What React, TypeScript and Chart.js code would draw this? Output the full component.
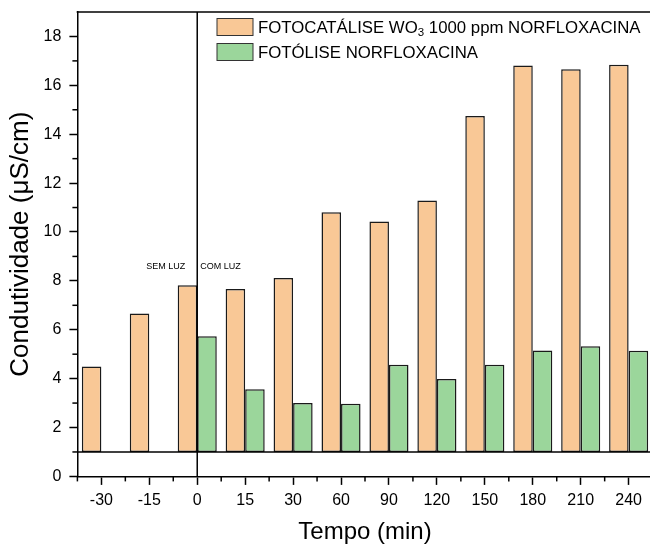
import React, { useEffect, useRef } from "react";
import { Chart, registerables } from "chart.js";

Chart.register(...registerables);

const categories = ["-30", "-15", "0", "15", "30", "60", "90", "120", "150", "180", "210", "240"];
const fotocatalise = [4.5, 6.66, 7.82, 7.67, 8.12, 10.81, 10.43, 11.29, 14.74, 16.81, 16.66, 16.84];
const fotolise = [null, null, 5.73, 3.57, 3.0, 2.97, 4.57, 3.98, 4.57, 5.15, 5.32, 5.14];
const baseline = 1;
const yMin = 0;
const yMax = 19;
const yStep = 2;
const lightChangeCategory = "0";
const annotationLeft = "SEM LUZ";
const annotationRight = "COM LUZ";
const annotationValue = 8.6;
const legendLabels = ["FOTOCATÁLISE WO", "3", " 1000 ppm NORFLOXACINA"];
const legendLabel2 = "FOTÓLISE NORFLOXACINA";

const FONT = '"Liberation Sans", Arial, Helvetica, sans-serif';
const ORANGE = "#F9C896";
const GREEN = "#9BD69B";
const EDGE = "#1a1a1a";

const decorPlugin = {
  id: "decor",
  afterDatasetsDraw(chart: any) {
    const { ctx, chartArea: a, scales } = chart;
    const x = scales.x;
    const y = scales.y;
    const line = (x1: number, y1: number, x2: number, y2: number, w = 1.5) => {
      ctx.beginPath();
      ctx.lineWidth = w;
      ctx.moveTo(x1, y1);
      ctx.lineTo(x2, y2);
      ctx.stroke();
    };
    ctx.save();
    ctx.strokeStyle = "#000";
    // top frame
    line(a.left - 0.75, a.top, a.right, a.top);
    // baseline
    const yb = y.getPixelForValue(baseline);
    line(a.left, yb, a.right, yb);
    // vertical separation line
    const idx = categories.indexOf(lightChangeCategory);
    const x0 = x.getPixelForValue(idx);
    line(x0, a.top, x0, a.bottom);
    // minor y ticks
    for (let v = yMin + 1; v < yMax; v += yStep) {
      const py = y.getPixelForValue(v);
      line(a.left - 5, py, a.left, py);
    }
    // minor x ticks
    const half = (x.getPixelForValue(1) - x.getPixelForValue(0)) / 2;
    for (let i = 0; i <= categories.length; i++) {
      const px = x.getPixelForValue(0) - half + i * 2 * half;
      line(px, a.bottom, px, a.bottom + 5);
    }
    // annotations
    ctx.fillStyle = "#000";
    ctx.font = `9px ${FONT}`;
    ctx.textBaseline = "middle";
    const ay = y.getPixelForValue(annotationValue);
    ctx.textAlign = "right";
    ctx.fillText(annotationLeft, x0 - 12, ay);
    ctx.textAlign = "left";
    ctx.fillText(annotationRight, x0 + 3, ay);

    // legend
    const bx = 217;
    const bw = 36;
    const bh = 17;
    const rows = [
      { color: ORANGE, cy: 27 },
      { color: GREEN, cy: 52 },
    ];
    rows.forEach((r) => {
      ctx.fillStyle = r.color;
      ctx.fillRect(bx, r.cy - bh / 2, bw, bh);
      ctx.strokeStyle = "#333";
      ctx.lineWidth = 1;
      ctx.strokeRect(bx, r.cy - bh / 2, bw, bh);
    });
    ctx.fillStyle = "#000";
    ctx.textAlign = "left";
    ctx.textBaseline = "alphabetic";
    const tx = 258;
    const base1 = rows[0].cy + 6;
    ctx.font = `16.8px ${FONT}`;
    ctx.fillText(legendLabels[0], tx, base1);
    let w = ctx.measureText(legendLabels[0]).width;
    ctx.font = `11.5px ${FONT}`;
    ctx.fillText(legendLabels[1], tx + w, base1 + 3);
    w += ctx.measureText(legendLabels[1]).width;
    ctx.font = `16.8px ${FONT}`;
    ctx.fillText(legendLabels[2], tx + w, base1);
    ctx.fillText(legendLabel2, tx, rows[1].cy + 6);
    ctx.restore();
  },
};

export default function App() {
  const ref = useRef<HTMLCanvasElement | null>(null);
  useEffect(() => {
    if (!ref.current) return;
    const chart = new Chart(ref.current, {
      type: "bar",
      data: {
        labels: categories,
        datasets: [
          {
            label: "FOTOCATÁLISE WO3 1000 ppm NORFLOXACINA",
            data: fotocatalise.map((v) => (v == null ? null : [baseline, v])) as any,
            backgroundColor: ORANGE,
            borderColor: EDGE,
            borderWidth: 1.5,
            borderSkipped: false,
            categoryPercentage: 0.815,
            barPercentage: 1,
          },
          {
            label: "FOTÓLISE NORFLOXACINA",
            data: fotolise.map((v) => (v == null ? null : [baseline, v])) as any,
            backgroundColor: GREEN,
            borderColor: EDGE,
            borderWidth: 1.5,
            borderSkipped: false,
            categoryPercentage: 0.815,
            barPercentage: 1,
          },
        ],
      },
      options: {
        responsive: false,
        animation: false,
        devicePixelRatio: 1,
        layout: { padding: { left: 0, top: 12, right: 7.4, bottom: 0 } },
        plugins: { legend: { display: false }, tooltip: { enabled: false } },
        scales: {
          x: {
            type: "category",
            offset: true,
            grid: {
              display: true,
              offset: false,
              drawOnChartArea: false,
              drawTicks: true,
              tickLength: 8.5,
              tickColor: "#000",
              tickWidth: 1.5,
            },
            border: { display: true, color: "#000", width: 1.5 },
            ticks: {
              color: "#000",
              font: { family: FONT, size: 16 },
              padding: 6,
              maxRotation: 0,
              autoSkip: false,
            },
            title: {
              display: true,
              text: "Tempo (min)",
              color: "#000",
              font: { family: FONT, size: 24 },
              padding: { top: 0, bottom: 1 },
            },
            afterFit: (s: any) => {
              s.height = 71.6;
              s.paddingLeft = 0;
              s.paddingRight = 0;
            },
          },
          y: {
            min: yMin,
            max: yMax,
            grid: {
              display: true,
              drawOnChartArea: false,
              drawTicks: true,
              tickLength: 8,
              tickColor: "#000",
              tickWidth: 1.5,
            },
            border: { display: true, color: "#000", width: 1.5 },
            ticks: {
              stepSize: yStep,
              color: "#000",
              font: { family: FONT, size: 16 },
              padding: 8,
            },
            afterBuildTicks: (s: any) => {
              s.ticks = s.ticks.filter((t: any) => t.value % yStep === 0);
            },
            title: {
              display: true,
              text: "Condutividade (μS/cm)",
              color: "#000",
              font: { family: FONT, size: 26 },
              padding: { top: 5, bottom: 0 },
            },
            afterFit: (s: any) => {
              s.width = 77.4;
              s.paddingTop = 0;
              s.paddingBottom = 0;
            },
          },
        },
      },
      plugins: [decorPlugin],
    });
    return () => chart.destroy();
  }, []);
  return (
    <div
      style={{
        position: "fixed",
        left: 0,
        top: 0,
        width: 650,
        height: 548,
        overflow: "hidden",
        background: "#fff",
      }}
    >
      <canvas ref={ref} width={660} height={548} style={{ width: 660, height: 548, display: "block" }} />
    </div>
  );
}
